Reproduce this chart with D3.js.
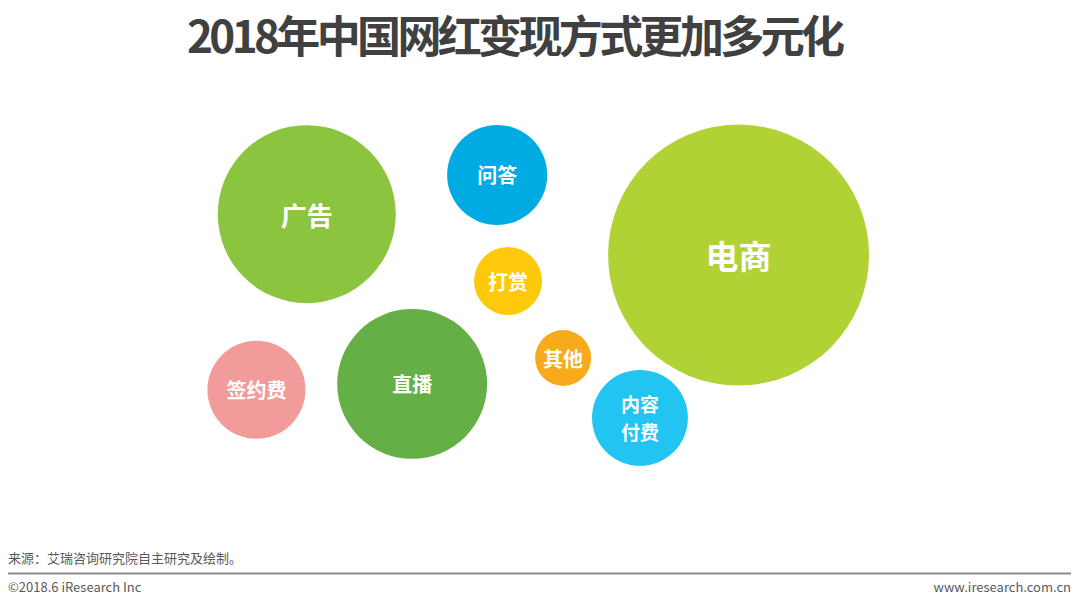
<!DOCTYPE html>
<html>
<head>
<meta charset="utf-8">
<script src="https://cdn.jsdelivr.net/npm/d3@7"></script>
<style>
  body { margin: 0; background: #fff; }
  svg { display: block; font-family: "Noto Sans CJK SC", "Noto Sans", sans-serif; }
</style>
</head>
<body>
<svg id="chart" width="1080" height="604"></svg>
<script>
// 变现方式、相对规模（气泡面积）以及气泡在画面中的位置（0-100 的抽象坐标）
const categories = ["广告", "问答", "电商", "打赏", "其他", "直播", "签约费", "内容付费"]
const values = [46.5, 14.7, 100, 6.8, 4.6, 33, 14.1, 13.5]
const posX = [15.7, 43.7, 79.2, 45.3, 53.4, 31.2, 8.3, 64.7]
const posY = [26.9, 15.7, 38.6, 46.0, 68.0, 75.4, 77.1, 85.1]
const colors = ["#8bc43f", "#00abe3", "#b1d235", "#ffc90b", "#f7ab1c", "#64b046", "#f29b9b", "#22c4f1"]

const width = 1080, height = 604
const svg = d3.select('#chart')

const x = d3.scaleLinear().domain([0, 100]).range([200, 880])
const y = d3.scaleLinear().domain([0, 100]).range([120, 470])
const r = d3.scaleSqrt().domain([0, d3.max(values)]).range([0, 130.5])
const fontSize = d3.scaleThreshold().domain([40, 60]).range([20, 26, 33])

const data = categories.map((c, i) => ({ name: c, value: values[i], x: posX[i], y: posY[i], color: colors[i] }))

// 标题
svg.append('text')
    .attr('x', 516)
    .attr('y', 53)
    .attr('text-anchor', 'middle')
    .attr('font-size', 44)
    .attr('font-weight', 'bold')
    .attr('fill', '#404040')
    .attr('textLength', 658)
    .attr('lengthAdjust', 'spacing')
    .text('2018年中国网红变现方式更加多元化')

const bubbles = svg.append('g')
    .selectAll('g')
    .data(data)
    .join('g')
    .attr('transform', d => `translate(${x(d.x)},${y(d.y)})`)

bubbles.append('circle')
    .attr('r', d => r(d.value))
    .attr('fill', d => d.color)

// 标签：四个字的分两行
bubbles.each(function (d) {
    const lines = d.name.length === 4 ? [d.name.slice(0, 2), d.name.slice(2)] : [d.name]
    const fs = lines.length > 1 ? 19 : fontSize(d.value)
    const lh = 28
    d3.select(this).append('text')
        .attr('text-anchor', 'middle')
        .attr('font-size', fs)
        .attr('font-weight', 'bold')
        .attr('fill', '#fff')
        .selectAll('tspan')
        .data(lines)
        .join('tspan')
        .attr('x', 0)
        .attr('y', (l, i) => (i - (lines.length - 1) / 2) * lh)
        .attr('dominant-baseline', 'central')
        .text(l => l)
})

// 底部信息
svg.append('text')
    .attr('x', 8).attr('y', 563)
    .attr('font-size', 13)
    .attr('fill', '#595959')
    .text('来源：艾瑞咨询研究院自主研究及绘制。')

svg.append('line')
    .attr('x1', 8).attr('x2', 1071)
    .attr('y1', 573.5).attr('y2', 573.5)
    .attr('stroke', '#8c8c8c')
    .attr('stroke-width', 2)

svg.append('text')
    .attr('x', 8).attr('y', 592)
    .attr('font-size', 13)
    .attr('fill', '#595959')
    .text('©2018.6 iResearch Inc')

svg.append('text')
    .attr('x', 1071).attr('y', 592)
    .attr('text-anchor', 'end')
    .attr('font-size', 13)
    .attr('fill', '#595959')
    .text('www.iresearch.com.cn')
</script>
</body>
</html>
